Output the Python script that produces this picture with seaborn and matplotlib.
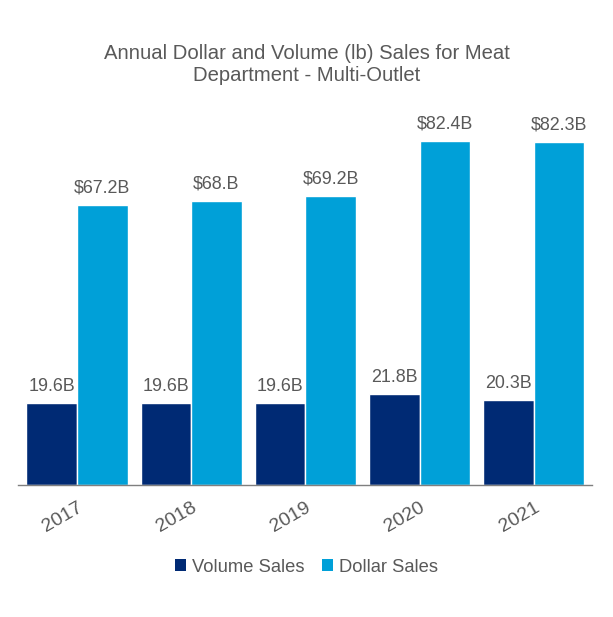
import matplotlib
matplotlib.use("Agg")
import matplotlib.pyplot as plt
import seaborn as sns
import pandas as pd
from matplotlib.patches import Patch

years = ["2017", "2018", "2019", "2020", "2021"]
volume_sales = [19.6, 19.6, 19.6, 21.8, 20.3]
dollar_sales = [67.2, 68.0, 69.2, 82.4, 82.3]
volume_labels = ["19.6B", "19.6B", "19.6B", "21.8B", "20.3B"]
dollar_labels = ["$67.2B", "$68.B", "$69.2B", "$82.4B", "$82.3B"]
series = ["Volume Sales", "Dollar Sales"]
colors = ["#002A74", "#00A0D8"]

df = pd.DataFrame({
    "Year": years * 2,
    "Value": volume_sales + dollar_sales,
    "Series": [series[0]] * len(years) + [series[1]] * len(years),
})

sns.set_theme(style="white")
plt.rcParams["font.family"] = ["Liberation Sans", "DejaVu Sans"]
text_col = "#595959"

fig = plt.figure(figsize=(6.13, 6.17), dpi=100)
ax = fig.add_axes([0.0294, 0.214, 0.9363, 0.624])

sns.barplot(data=df, x="Year", y="Value", hue="Series", palette=colors,
            width=0.886, saturation=1, ax=ax, legend=False, errorbar=None)

for cont, labs in zip(ax.containers, [volume_labels, dollar_labels]):
    ax.bar_label(cont, labels=labs, padding=6, fontsize=12.9, color=text_col)

ax.set_xlim(-0.516, 4.51)
ax.set_ylim(0, 92.3)
ax.set_yticks([])
ax.set_xlabel("")
ax.set_ylabel("")
for s in ["top", "right", "left"]:
    ax.spines[s].set_visible(False)
ax.spines["bottom"].set_color("#7f7f7f")
ax.spines["bottom"].set_linewidth(1.0)
ax.tick_params(axis="x", length=0, pad=10, labelsize=14, labelcolor=text_col)
for lab in ax.get_xticklabels():
    lab.set_rotation(30)
    lab.set_ha("right")
    lab.set_rotation_mode("anchor")

fig.text(0.5, 0.895, "Annual Dollar and Volume (lb) Sales for Meat\nDepartment - Multi-Outlet",
         ha="center", va="center", fontsize=14.6, color=text_col, linespacing=1.2)

handles = [Patch(facecolor=c, edgecolor="none") for c in colors]
fig.legend(handles, series, loc="center", bbox_to_anchor=(0.5, 0.081), ncol=2,
           frameon=False, fontsize=13.2, labelcolor=text_col,
           handlelength=0.6, handleheight=0.6, handletextpad=0.3, columnspacing=1.0)

fig.savefig("out.png", dpi=100, facecolor="white")
